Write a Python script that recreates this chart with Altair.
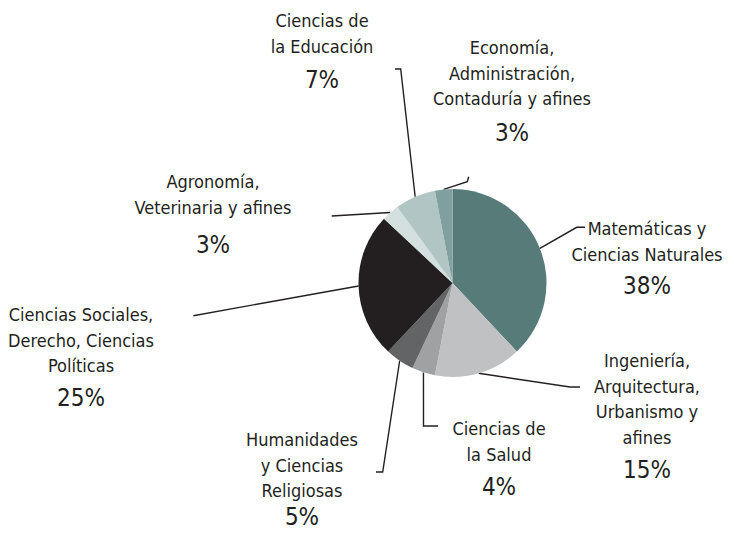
import math
import altair as alt
import pandas as pd

# ---- data ----
categories = [
    "Matemáticas y Ciencias Naturales",
    "Ingeniería, Arquitectura, Urbanismo y afines",
    "Ciencias de la Salud",
    "Humanidades y Ciencias Religiosas",
    "Ciencias Sociales, Derecho, Ciencias Políticas",
    "Agronomía, Veterinaria y afines",
    "Ciencias de la Educación",
    "Economía, Administración, Contaduría y afines",
]
values = [38, 15, 4, 5, 25, 3, 7, 3]
label_text = [
    "Matemáticas y\nCiencias Naturales",
    "Ingeniería,\nArquitectura,\nUrbanismo y\nafines",
    "Ciencias de\nla Salud",
    "Humanidades\ny Ciencias\nReligiosas",
    "Ciencias Sociales,\nDerecho, Ciencias\nPolíticas",
    "Agronomía,\nVeterinaria y afines",
    "Ciencias de\nla Educación",
    "Economía,\nAdministración,\nContaduría y afines",
]

# ---- styles / layout ----
colors = ["#577b79", "#c0c1c3", "#a0a1a3", "#636466", "#231f20",
          "#d4dfdf", "#b2c5c5", "#80a09f"]
ink = "#231f20"
font = "DejaVu Sans Condensed, Roboto Condensed, Liberation Sans Narrow, Roboto, sans-serif"
CX, CY, R = 452.5, 283.0, 94.0
# label anchors: (x centre, first baseline, percentage baseline)
label_pos = [
    (647, 235, 294),
    (647, 367, 478),
    (499, 435, 495),
    (302, 446, 525),
    (81, 321, 406),
    (213, 188, 253),
    (322, 27, 88),
    (512, 54, 141),
]
# leader line bend points after the slice edge
leader_pts = [
    [(576.7, 227.3), (585, 227.3)],
    [(570, 387), (580, 387)],
    [(423.5, 426), (438, 426)],
    [(382.7, 472), (376, 472)],
    [(193.3, 315.7)],
    [(331.7, 216)],
    [(400.7, 69), (395, 69)],
    [(467.3, 181.7), (468.7, 176.7)],
]

total = sum(values)
pie_df = pd.DataFrame({
    "idx": range(len(categories)),
    "cat": categories,
    "value": values,
    "cx": CX,
    "cy": CY,
})

rows = []
cum = 0
for i, v in enumerate(values):
    mid = (cum + v / 2) / total * 2 * math.pi
    cum += v
    sx = CX + R * math.sin(mid)
    sy = CY - R * math.cos(mid)
    pts = [(sx, sy)] + leader_pts[i]
    for j, (px, py) in enumerate(pts):
        rows.append({"cat": categories[i], "seq": j, "px": px, "py": py})
line_df = pd.DataFrame(rows)

lab_df = pd.DataFrame({
    "cat": categories,
    "txt": label_text,
    "pct": [f"{v}%" for v in values],
    "lx": [p[0] for p in label_pos],
    "ly": [p[1] for p in label_pos],
    "py": [p[2] for p in label_pos],
})

W, H = 718, 525
xs = alt.Scale(domain=[8, 8 + W], nice=False, zero=False)
ys = alt.Scale(domain=[8, 8 + H], nice=False, zero=False, reverse=True)

lines = alt.Chart(line_df).mark_line(color=ink, strokeWidth=1.4).encode(
    x=alt.X("px:Q", scale=xs, axis=None),
    y=alt.Y("py:Q", scale=ys, axis=None),
    detail="cat:N",
    order="seq:Q",
)

pie = alt.Chart(pie_df).mark_arc(outerRadius=R).encode(
    theta=alt.Theta("value:Q", stack=True),
    order=alt.Order("idx:Q"),
    color=alt.Color("cat:N", scale=alt.Scale(domain=categories, range=colors), legend=None),
    x=alt.X("cx:Q", scale=xs, axis=None),
    y=alt.Y("cy:Q", scale=ys, axis=None),
)

names = alt.Chart(lab_df).mark_text(
    lineBreak="\n", align="center", baseline="alphabetic",
    font=font, fontSize=18, lineHeight=25.7, color=ink,
).encode(
    x=alt.X("lx:Q", scale=xs, axis=None),
    y=alt.Y("ly:Q", scale=ys, axis=None),
    text="txt:N",
)

pcts = alt.Chart(lab_df).mark_text(
    align="center", baseline="alphabetic",
    font=font, fontSize=24, color=ink,
).encode(
    x=alt.X("lx:Q", scale=xs, axis=None),
    y=alt.Y("py:Q", scale=ys, axis=None),
    text="pct:N",
)

chart = alt.layer(lines, pie, names, pcts).properties(
    width=W, height=H, padding=0,
    autosize=alt.AutoSizeParams(type="none"),
).configure_view(stroke=None)

chart.save("out.html", embed_options={"renderer": "svg", "actions": False})
